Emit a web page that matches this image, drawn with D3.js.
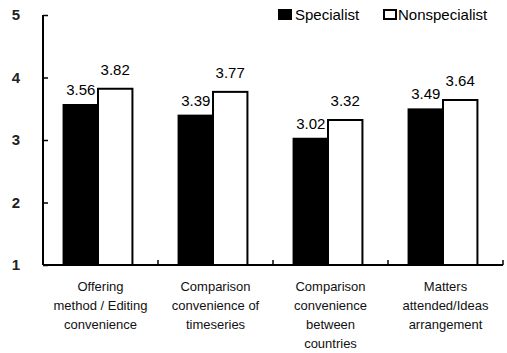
<!DOCTYPE html>
<html>
<head>
<meta charset="utf-8">
<script src="https://cdn.jsdelivr.net/npm/d3@7"></script>
<style>
  html, body { margin: 0; padding: 0; background: #fff; }
  svg { display: block; font-family: Arial, "Liberation Sans", sans-serif; }
</style>
</head>
<body>
<svg id="chart" width="507" height="353"></svg>
<script>
// Categories (each label split into its display lines)
const categories = [
  ["Offering", "method / Editing", "convenience"],
  ["Comparison", "convenience of", "timeseries"],
  ["Comparison", "convenience", "between", "countries"],
  ["Matters", "attended/Ideas", "arrangement"]
];
const seriesNames = ["Specialist", "Nonspecialist"];
const specialist = [3.56, 3.39, 3.02, 3.49];
const nonspecialist = [3.82, 3.77, 3.32, 3.64];
const yTicks = [1, 2, 3, 4, 5];

const svg = d3.select("#chart");
const plotLeft = 43, plotRight = 503, plotTop = 15, plotBottom = 265;

const x = d3.scaleBand().domain(d3.range(categories.length)).range([plotLeft, plotRight]).padding(0);
const y = d3.scaleLinear().domain([1, 5]).range([plotBottom, plotTop]);
// bar pair sits a little left of the band centre
const inner = d3.scaleBand().domain([0, 1])
  .range([-2.5, x.bandwidth() - 2.5]).paddingInner(0).paddingOuter(0.67);

const fills = ["#000", "#fff"];
const data = [specialist, nonspecialist];

// Bars
data.forEach((vals, s) => {
  svg.append("g").selectAll("rect").data(vals).join("rect")
    .attr("x", (d, i) => x(i) + inner(s))
    .attr("y", d => y(d))
    .attr("width", inner.bandwidth())
    .attr("height", d => y(1) - y(d))
    .attr("fill", fills[s])
    .attr("stroke", "#000")
    .attr("stroke-width", 2);
});

// Value labels
data.forEach((vals, s) => {
  svg.append("g").selectAll("text").data(vals).join("text")
    .attr("x", (d, i) => x(i) + inner(s) + inner.bandwidth() / 2)
    .attr("y", d => y(d) - (s === 0 ? 10 : 14))
    .attr("text-anchor", "middle")
    .attr("font-size", 15)
    .attr("fill", "#000")
    .text(d => d.toFixed(2));
});

// Y axis with inward ticks
const yAxis = svg.append("g")
  .attr("transform", `translate(${plotLeft},0)`)
  .call(d3.axisRight(y).tickValues(yTicks).tickSize(5).tickFormat(""));
yAxis.select(".domain").attr("d", `M0,${plotTop}V${plotBottom}`).attr("stroke-width", 2);
yAxis.selectAll(".tick line").attr("stroke-width", 1.5);
svg.append("g").selectAll("text").data(yTicks).join("text")
  .attr("x", 16)
  .attr("y", d => y(d) + 5)
  .attr("text-anchor", "middle")
  .attr("font-size", 15)
  .attr("font-weight", "bold")
  .attr("fill", "#222")
  .text(d => d);

// X axis baseline with upward separator ticks
const sep = d3.range(categories.length + 1).map(i => plotLeft + i * x.bandwidth());
svg.append("line")
  .attr("x1", plotLeft).attr("x2", plotRight)
  .attr("y1", plotBottom).attr("y2", plotBottom)
  .attr("stroke", "#000").attr("stroke-width", 2);
svg.append("g").selectAll("line").data(sep.slice(1)).join("line")
  .attr("x1", d => d).attr("x2", d => d)
  .attr("y1", plotBottom).attr("y2", plotBottom - 5)
  .attr("stroke", "#000").attr("stroke-width", 1.5);

// Category labels
const catG = svg.append("g").selectAll("text").data(categories).join("text")
  .attr("text-anchor", "middle")
  .attr("font-size", 13)
  .attr("fill", "#111");
catG.each(function(lines, i) {
  d3.select(this).selectAll("tspan").data(lines).join("tspan")
    .attr("x", x(i) + x.bandwidth() / 2)
    .attr("y", (d, j) => 291 + j * 19)
    .text(d => d);
});

// Legend
const legend = [
  { name: seriesNames[0], fill: "#000", sx: 279, tx: 295 },
  { name: seriesNames[1], fill: "#fff", sx: 384, tx: 398 }
];
const lg = svg.append("g");
legend.forEach(l => {
  lg.append("rect")
    .attr("x", l.sx).attr("y", 10).attr("width", 12).attr("height", 9)
    .attr("fill", l.fill).attr("stroke", "#000").attr("stroke-width", 2);
  lg.append("text")
    .attr("x", l.tx).attr("y", 19.5)
    .attr("font-size", 15)
    .attr("fill", "#000")
    .text(l.name);
});
</script>
</body>
</html>
